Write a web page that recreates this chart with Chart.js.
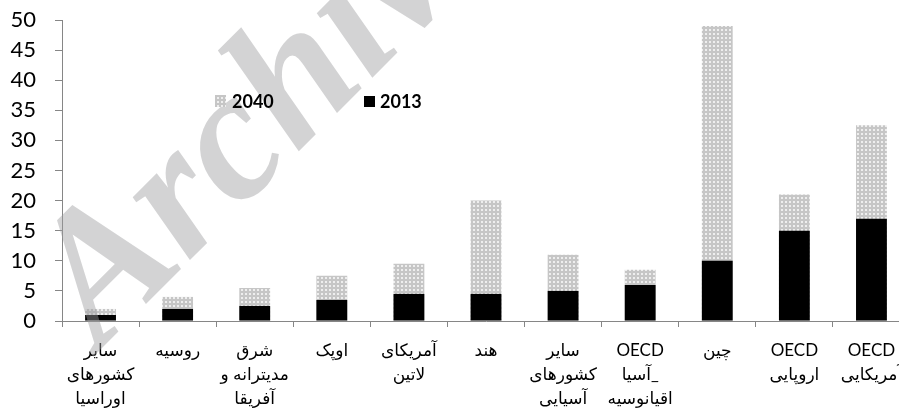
<!DOCTYPE html>
<html lang="fa">

<head>
   <meta charset="UTF-8">
   <title>2013 / 2040</title>
   <script src="https://cdn.jsdelivr.net/npm/chart.js@4.4.1/dist/chart.umd.min.js"></script>
   <style>
      html, body { margin: 0; padding: 0; overflow: hidden; background: #fff; }
      .chart-container { width: 920px; height: 414px; }
   </style>
</head>

<body>
   <div class="chart-container">
      <canvas id="myChart"></canvas>
   </div>

   <script>
      const categories = [
         ['سایر', 'کشورهای', 'اوراسیا'],
         ['روسیه'],
         ['شرق', 'مدیترانه و', 'آفریقا'],
         ['اوپک'],
         ['آمریکای', 'لاتین'],
         ['هند'],
         ['سایر', 'کشورهای', 'آسیایی'],
         ['OECD', 'آسیا_', 'اقیانوسیه'],
         ['چین'],
         ['OECD', 'اروپایی'],
         ['OECD', 'آمریکایی']
      ];
      const values2013 = [1, 2, 2.5, 3.5, 4.5, 4.5, 5, 6, 10, 15, 17];
      const values2040 = [2, 4, 5.5, 7.5, 9.5, 20, 11, 8.5, 49, 21, 32.5];
      const yMin = 0;
      const yMax = 50;
      const yStep = 5;

      const axisColor = '#868686';
      const fontFamily = "Lato, 'DejaVu Sans', sans-serif";

      // dotted grey fill for 2040
      function makeDots() {
         const c = document.createElement('canvas');
         c.width = 4;
         c.height = 4;
         const g = c.getContext('2d');
         g.fillStyle = '#c6c6c6';
         g.fillRect(0, 0, 4, 4);
         g.fillStyle = '#eeeeee';
         g.fillRect(1, 1, 2, 2);
         return g.createPattern(c, 'repeat');
      }
      const dots = makeDots();

      const decorPlugin = {
         id: 'decor',
         afterDatasetsDraw(chart) {
            // watermark
            const ctx = chart.ctx;
            ctx.save();
            ctx.translate(100, 350);
            ctx.rotate(-45 * Math.PI / 180);
            ctx.font = "italic bold 185px 'Liberation Serif'";
            ctx.fillStyle = 'rgba(157, 157, 160, 0.45)';
            ctx.fillText('Archive', 0, 0);
            ctx.restore();
         },
         afterDraw(chart) {
            // legend inside the plot
            const ctx = chart.ctx;
            ctx.save();
            ctx.font = "bold 18px " + fontFamily;
            ctx.textBaseline = 'middle';
            ctx.fillStyle = dots;
            ctx.fillRect(215, 95, 11, 12);
            ctx.fillStyle = '#000';
            ctx.fillText('2040', 232, 102);
            ctx.fillRect(364, 96, 11, 11);
            ctx.fillText('2013', 380, 102);
            ctx.restore();
         }
      };

      const config = {
         type: 'bar',
         data: {
            labels: categories,
            datasets: [
               {
                  label: '2013',
                  data: values2013,
                  backgroundColor: '#000000',
                  barPercentage: 0.4,
                  categoryPercentage: 1
               },
               {
                  label: '2040',
                  data: values2040,
                  backgroundColor: dots,
                  barPercentage: 0.4,
                  categoryPercentage: 1
               }
            ]
         },
         options: {
            responsive: true,
            maintainAspectRatio: false,
            animation: false,
            layout: {
               padding: { left: 0, right: 10, top: 20, bottom: 0 }
            },
            plugins: {
               legend: { display: false },
               tooltip: { enabled: false }
            },
            scales: {
               x: {
                  stacked: true,
                  afterFit(scale) { scale.height = 93; },
                  grid: {
                     drawOnChartArea: false,
                     offset: true,
                     tickLength: 6,
                     color: axisColor
                  },
                  border: { color: axisColor },
                  ticks: {
                     color: '#000',
                     autoSkip: false,
                     maxRotation: 0,
                     padding: 11,
                     font: { family: fontFamily, size: 17, lineHeight: 1.42 }
                  }
               },
               y: {
                  stacked: false,
                  min: yMin,
                  max: yMax,
                  afterFit(scale) {
                     scale.width = 62;
                     scale.paddingTop = 0;
                     scale.paddingBottom = 0;
                  },
                  grid: {
                     drawOnChartArea: false,
                     tickLength: 7,
                     color: axisColor
                  },
                  border: { color: axisColor },
                  ticks: {
                     stepSize: yStep,
                     autoSkip: false,
                     color: '#000',
                     padding: 19,
                     font: { family: fontFamily, size: 22 }
                  }
               }
            }
         },
         plugins: [decorPlugin]
      };

      const ctx = document.getElementById('myChart').getContext('2d');
      const chart = new Chart(ctx, config);
   </script>
</body>

</html>
